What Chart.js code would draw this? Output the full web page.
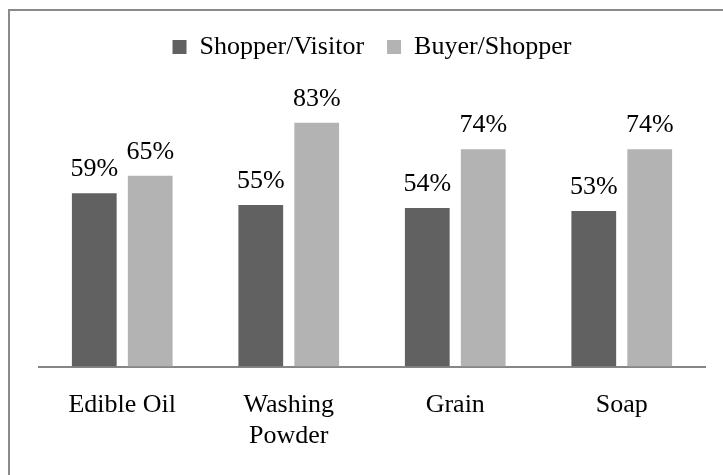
<!DOCTYPE html>
<html>
<head>
<meta charset="utf-8">
<script src="https://cdn.jsdelivr.net/npm/chart.js@4"></script>
<style>
  body { margin: 0; background: #fff; }
  #wrap { position: relative; width: 723px; height: 475px; }
  #frame { position: absolute; left: 8px; top: 9px; right: 0; bottom: 0;
           border-left: 2px solid #8a8a8a; border-top: 2px solid #8a8a8a; }
  canvas { position: absolute; left: 0; top: 0; }
</style>
</head>
<body>
<div id="wrap">
  <div id="frame"></div>
  <canvas id="myChart" width="723" height="475"></canvas>
</div>
<script>
const categories = ['Edible Oil', ['Washing', 'Powder'], 'Grain', 'Soap'];
const shopperVisitor = [59, 55, 54, 53];
const buyerShopper = [65, 83, 74, 74];
const seriesNames = ['Shopper/Visitor', 'Buyer/Shopper'];

const serif = "'Liberation Serif', 'Times New Roman', serif";
Chart.defaults.font.family = serif;
Chart.defaults.color = '#000';

// draws the % value over each bar
const valueLabels = {
  id: 'valueLabels',
  afterDatasetsDraw(chart) {
    const ctx = chart.ctx;
    ctx.save();
    ctx.font = '26px ' + serif;
    ctx.fillStyle = '#000';
    ctx.textAlign = 'center';
    ctx.textBaseline = 'alphabetic';
    chart.data.datasets.forEach((ds, i) => {
      chart.getDatasetMeta(i).data.forEach((bar, j) => {
        ctx.fillText(ds.data[j] + '%', bar.x, bar.y - 17);
      });
    });
    ctx.restore();
  }
};

new Chart(document.getElementById('myChart'), {
  type: 'bar',
  data: {
    labels: categories,
    datasets: [{
      label: seriesNames[0],
      data: shopperVisitor,
      backgroundColor: '#616161',
      barPercentage: 0.8,
      categoryPercentage: 0.672
    }, {
      label: seriesNames[1],
      data: buyerShopper,
      backgroundColor: '#b3b3b3',
      barPercentage: 0.8,
      categoryPercentage: 0.672
    }]
  },
  options: {
    responsive: false,
    animation: false,
    layout: { padding: { left: 39, right: 18, top: 11, bottom: 0 } },
    plugins: {
      legend: {
        position: 'top',
        labels: {
          boxWidth: 14,
          boxHeight: 14,
          padding: 23,
          font: { size: 26 }
        }
      },
      tooltip: { enabled: false }
    },
    scales: {
      x: {
        grid: { display: false, drawTicks: false },
        border: { display: true, color: '#868686', width: 2 },
        ticks: { font: { size: 26 }, padding: 23, maxRotation: 0 }
      },
      y: {
        display: false,
        min: 0,
        max: 101
      }
    }
  },
  plugins: [valueLabels]
});
</script>
</body>
</html>
